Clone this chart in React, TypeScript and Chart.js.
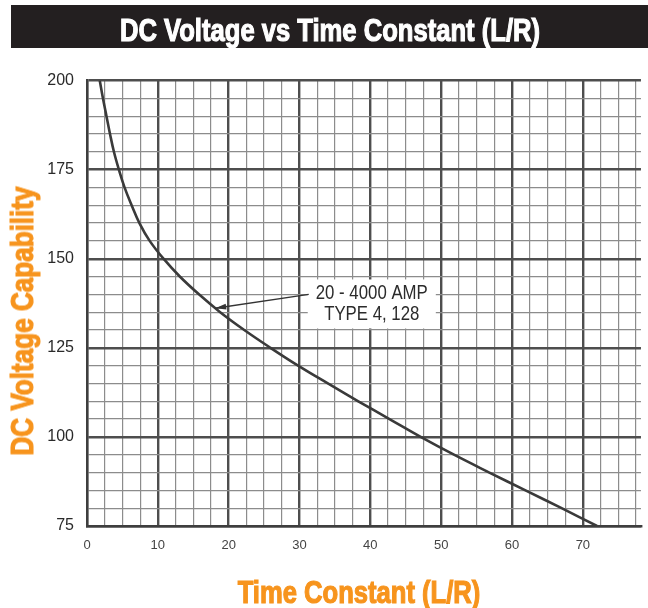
import { useEffect, useRef } from 'react';
import { Chart, registerables } from 'chart.js';

Chart.register(...registerables);

// ---- Text ----
const TITLE = 'DC Voltage vs Time Constant (L/R)';
const X_TITLE = 'Time Constant (L/R)';
const Y_TITLE = 'DC Voltage Capability';

// ---- Data ----
const timeConstant = [1.8, 2.25, 2.75, 3.25, 3.8, 4.5, 5.3, 6.3, 7.4, 8.85, 10.8, 13.1, 15.8, 18.8, 22.2, 25.9, 29.8, 34.0, 38.3, 42.7, 47.1, 51.8, 56.8, 61.9, 67.0, 72.0];
const voltage = [200, 195, 190, 185, 180, 175, 170, 165, 160, 155, 150, 145, 140, 135, 130, 125, 120, 115, 110, 105, 100, 95, 90, 85, 80, 75];

// ---- Axes ----
const xTickLabels = [0, 10, 20, 30, 40, 50, 60, 70];
const yTickLabels = [75, 100, 125, 150, 175, 200];
const xMin = 0;
const xMax = 78.2;
const yMin = 75;
const yMax = 200;
const xMinorStep = 2.5;
const xMajorStep = 10;
const yMinorStep = 5;
const yMajorStep = 25;

// ---- Annotation ----
const annotationText = ['20 - 4000 AMP', 'TYPE 4, 128'];
const annotationCenter = [40.2, 137.3];
const arrowTail = [31.3, 140.0];
const arrowTip = [18.1, 136.1];

const MAJOR = '#4e4e4e';
const MINOR = '#8c8c8c';
const ORANGE = '#F7941D';
const SANS = '"Liberation Sans", Arial, sans-serif';

const isMult = (v: number, m: number) => Math.abs(v / m - Math.round(v / m)) < 1e-6;

const annotationPlugin = {
  id: 'annotationBox',
  afterDatasetsDraw(chart: any) {
    const { ctx, scales } = chart;
    const x = scales.x;
    const y = scales.y;
    const squeeze = 0.84;
    ctx.save();
    ctx.font = `20px ${SANS}`;
    const cx = x.getPixelForValue(annotationCenter[0]);
    const cy = y.getPixelForValue(annotationCenter[1]);
    const lh = 21.5;
    const w = Math.max(...annotationText.map((t) => ctx.measureText(t).width)) * squeeze + 16;
    const h = lh * annotationText.length + 6;
    ctx.fillStyle = '#ffffff';
    ctx.fillRect(cx - w / 2, cy - h / 2, w, h);
    ctx.fillStyle = '#2b2b2b';
    ctx.textAlign = 'center';
    ctx.textBaseline = 'middle';
    annotationText.forEach((t, i) => {
      ctx.save();
      ctx.translate(cx, cy + (i - (annotationText.length - 1) / 2) * lh);
      ctx.scale(squeeze, 1);
      ctx.fillText(t, 0, 0);
      ctx.restore();
    });
    // arrow
    const tx = x.getPixelForValue(arrowTail[0]);
    const ty = y.getPixelForValue(arrowTail[1]);
    const px = x.getPixelForValue(arrowTip[0]);
    const py = y.getPixelForValue(arrowTip[1]);
    ctx.strokeStyle = '#333';
    ctx.lineWidth = 1.3;
    ctx.beginPath();
    ctx.moveTo(tx, ty);
    ctx.lineTo(px, py);
    ctx.stroke();
    const ang = Math.atan2(py - ty, px - tx);
    const len = 11;
    const hw = 3;
    ctx.fillStyle = '#333';
    ctx.beginPath();
    ctx.moveTo(px, py);
    ctx.lineTo(px - len * Math.cos(ang) + hw * Math.sin(ang), py - len * Math.sin(ang) - hw * Math.cos(ang));
    ctx.lineTo(px - len * Math.cos(ang) - hw * Math.sin(ang), py - len * Math.sin(ang) + hw * Math.cos(ang));
    ctx.closePath();
    ctx.fill();
    ctx.restore();
  },
};

export default function App() {
  const canvasRef = useRef<HTMLCanvasElement | null>(null);

  useEffect(() => {
    const canvas = canvasRef.current;
    if (!canvas) return;
    const chart = new Chart(canvas, {
      type: 'line',
      data: {
        datasets: [
          {
            label: '20 - 4000 AMP TYPE 4, 128',
            data: timeConstant.map((t, i) => ({ x: t, y: voltage[i] })),
            borderColor: '#3a3a3a',
            borderWidth: 2.6,
            pointRadius: 0,
            fill: false,
            tension: 0.4,
          },
        ],
      },
      options: {
        responsive: false,
        animation: false,
        devicePixelRatio: 1,
        layout: { padding: { top: 80.5, left: 0, right: 0, bottom: 0 } },
        plugins: {
          legend: { display: false },
          tooltip: { enabled: false },
          title: { display: false },
        },
        scales: {
          x: {
            type: 'linear',
            min: xMin,
            max: xMax,
            afterFit: (scale: any) => {
              scale.height = 82;
            },
            border: { display: true, color: '#3e3e3e', width: 2.6 },
            grid: {
              drawTicks: false,
              color: (c: any) => {
                const v = c.tick ? c.tick.value : 0;
                if (isMult(v, xMajorStep)) return MAJOR;
                if (isMult(v, xMinorStep)) return MINOR;
                return 'rgba(0,0,0,0)';
              },
              lineWidth: (c: any) => {
                const v = c.tick ? c.tick.value : 0;
                return isMult(v, xMajorStep) ? 2.4 : 1.2;
              },
            },
            ticks: {
              stepSize: xMinorStep,
              includeBounds: false,
              autoSkip: false,
              maxRotation: 0,
              padding: 12,
              color: '#444',
              font: { family: SANS, size: 13 },
              callback: (value: any) => (xTickLabels.some((t) => Math.abs(t - value) < 1e-6) ? String(value) : ''),
            },
          },
          y: {
            type: 'linear',
            min: yMin,
            max: yMax,
            afterFit: (scale: any) => {
              scale.width = 87;
            },
            border: { display: true, color: '#3e3e3e', width: 2.4 },
            grid: {
              drawTicks: false,
              color: (c: any) => {
                const v = c.tick ? c.tick.value : 0;
                if (isMult(v, yMajorStep)) return MAJOR;
                if (isMult(v, yMinorStep)) return MINOR;
                return 'rgba(0,0,0,0)';
              },
              lineWidth: (c: any) => {
                const v = c.tick ? c.tick.value : 0;
                return isMult(v, yMajorStep) ? 2.4 : 1.2;
              },
            },
            ticks: {
              stepSize: yMinorStep,
              includeBounds: false,
              autoSkip: false,
              padding: 13,
              color: '#2a2a2a',
              font: { family: SANS, size: 16 },
              callback: (value: any) => (yTickLabels.some((t) => Math.abs(t - value) < 1e-6) ? String(value) : ''),
            },
          },
        },
      },
      plugins: [annotationPlugin],
    } as any);
    return () => chart.destroy();
  }, []);

  const bold: any = {
    fontFamily: SANS,
    fontWeight: 700,
    fontSize: '32px',
    lineHeight: 1,
    whiteSpace: 'nowrap',
    position: 'absolute',
  };

  return (
    <div style={{ position: 'absolute', left: 0, top: 0, width: 648, height: 608, overflow: 'hidden', background: '#fff' }}>
      <canvas ref={canvasRef} width={648} height={608} style={{ position: 'absolute', left: 0, top: 0, display: 'block' }} />
      <div style={{ position: 'absolute', left: 11, top: 5, width: 637, height: 43, background: '#231f20' }} />
      <div
        style={{
          ...bold,
          left: 329.5,
          top: 29.5,
          color: '#fff',
          WebkitTextStroke: '1.2px #fff',
          transform: 'translate(-50%, -50%) scaleX(0.8)',
        }}
      >
        {TITLE}
      </div>
      <div
        style={{
          ...bold,
          left: 359,
          top: 592,
          color: ORANGE,
          WebkitTextStroke: '1.2px ' + ORANGE,
          transform: 'translate(-50%, -50%) scaleX(0.8)',
        }}
      >
        {X_TITLE}
      </div>
      <div
        style={{
          ...bold,
          left: 21.5,
          top: 321,
          color: ORANGE,
          WebkitTextStroke: '1.2px ' + ORANGE,
          transform: 'translate(-50%, -50%) rotate(-90deg) scaleX(0.815)',
        }}
      >
        {Y_TITLE}
      </div>
    </div>
  );
}
